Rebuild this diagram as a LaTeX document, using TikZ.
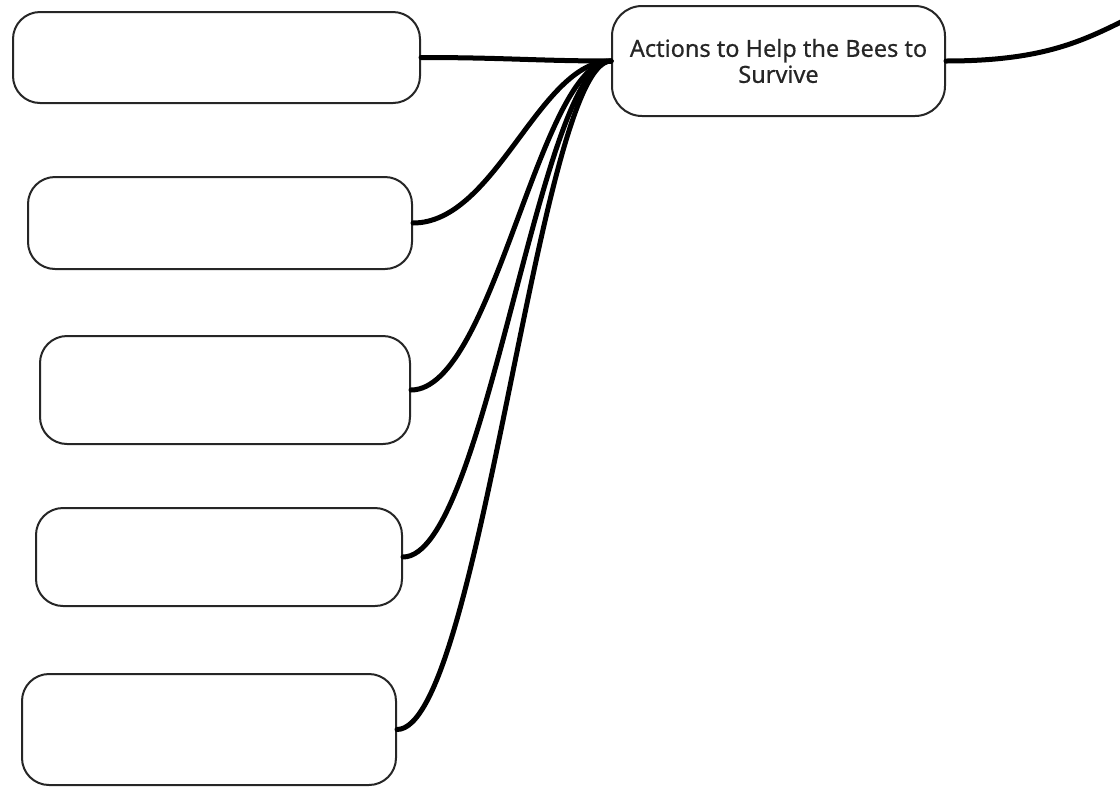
\documentclass[tikz,border=0pt]{standalone}
\usepackage{fontspec}
\setmainfont{Noto Sans}[FakeBold=0.6]
\begin{document}
\begin{tikzpicture}[x=1pt,y=-1pt,
  topic/.style={draw=black!85, line width=2pt, rounded corners=27pt, fill=white,
    inner sep=0pt, font=\fontsize{23.5}{27}\selectfont\bfseries, text=black!85, align=center},
  branch/.style={draw=black, line width=5pt, line cap=round}]
\useasboundingbox (0,0) rectangle (1120,788);
\clip (0,0) rectangle (1120,788);

% central topic
\node[topic, minimum width=333pt, minimum height=110pt, rounded corners=30pt] (c) at (778.5,61)
  {Actions to Help the Bees to\\[-1pt]Survive};

% empty answer boxes on the left
\node[topic, minimum width=407pt, minimum height=91pt]  (b1) at (216.5,57.5) {};
\node[topic, minimum width=384pt, minimum height=92pt]  (b2) at (220,223) {};
\node[topic, minimum width=370pt, minimum height=108pt] (b3) at (225,390) {};
\node[topic, minimum width=366pt, minimum height=98pt]  (b4) at (219,557) {};
\node[topic, minimum width=374pt, minimum height=111pt] (b5) at (209,729.5) {};

% branch leaving to the right, beyond the page
\coordinate (out) at (1135,15);

% connectors
\foreach \b in {b1,b2,b3,b4,b5}
  \draw[branch] (\b.east) .. controls +(83,0) and +(-72,0) .. (c.west);
\draw[branch] (c.east) .. controls +(100,0) and +(-50,25) .. (out);
\end{tikzpicture}
\end{document}
